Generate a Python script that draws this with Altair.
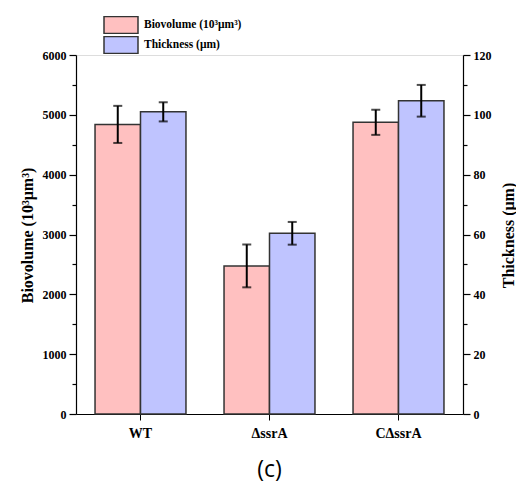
import altair as alt
import pandas as pd

strains = ["WT", "ΔssrA", "CΔssrA"]
biovolume = [4840, 2475, 4875]
biovolume_err = [310, 358, 210]
thickness = [101.0, 60.4, 104.7]
thickness_err = [3.2, 3.8, 5.3]
series = ["Biovolume (10³μm³)", "Thickness (μm)"]
colors = ["#FFC0C0", "#BFC4FF"]

bio_df = pd.DataFrame({
    "strain": strains,
    "series": series[0],
    "value": biovolume,
    "lo": [v - e for v, e in zip(biovolume, biovolume_err)],
    "hi": [v + e for v, e in zip(biovolume, biovolume_err)],
})
thk_df = pd.DataFrame({
    "strain": strains,
    "series": series[1],
    "value": thickness,
    "lo": [v - e for v, e in zip(thickness, thickness_err)],
    "hi": [v + e for v, e in zip(thickness, thickness_err)],
})

SERIF = "Liberation Serif"

x_enc = alt.X("strain:N", sort=strains, title=None,
              scale=alt.Scale(paddingInner=0.295, paddingOuter=0.1475),
              axis=alt.Axis(labelAngle=0, labelFont=SERIF, labelFontSize=14,
                            labelFontWeight="bold", labelColor="black",
                            domainColor="black", tickColor="black",
                            tickSize=6, labelPadding=6, domainWidth=1.2))
xo_enc = alt.XOffset("series:N", scale=alt.Scale(domain=series, paddingInner=0, paddingOuter=0))
color_enc = alt.Color("series:N", scale=alt.Scale(domain=series, range=colors),
                      legend=alt.Legend(title=None, orient="none", legendX=27, legendY=-39,
                                        symbolType="M-1,-1H3V1H-1Z", symbolSize=289,
                                        symbolStrokeColor="#333333", symbolStrokeWidth=1.5,
                                        symbolOpacity=1, clipHeight=18,
                                        labelFont=SERIF, labelFontSize=11.5, labelFontWeight="bold",
                                        labelColor="black", labelOffset=22, rowPadding=2))


def make_layer(df, domain, step_minor, step_major, title, orient, title_angle, title_x):
    ticks = [i * step_minor for i in range(int(domain / step_minor) + 1)]
    axis = alt.Axis(values=ticks, orient=orient, grid=False, format="d",
                    labelExpr=f"datum.value % {step_major} === 0 ? datum.label : ''",
                    tickSize={"condition": {"test": f"datum.value % {step_major} === 0", "value": 7}, "value": 4},
                    labelFont=SERIF, labelFontSize=12, labelFontWeight="bold", labelColor="black",
                    domainColor="black", tickColor="black", domainWidth=1.2, tickWidth=1.2,
                    labelPadding=3,
                    title=title, titleFont=SERIF, titleFontSize=16, titleFontWeight="bold",
                    titleColor="black", titleAngle=title_angle, titleX=title_x, titleY=180,
                    titleBaseline="middle", titleAlign="center")
    y_scale = alt.Scale(domain=[0, domain], nice=False)
    bars = alt.Chart(df).mark_bar(stroke="#333333", strokeWidth=1.5, opacity=1).encode(
        x=x_enc, xOffset=xo_enc,
        y=alt.Y("value:Q", scale=y_scale, axis=axis),
        color=color_enc,
    )
    rule = alt.Chart(df).mark_rule(color="black", strokeWidth=2).encode(
        x=x_enc, xOffset=xo_enc,
        y=alt.Y("lo:Q", scale=y_scale, axis=axis), y2="hi:Q",
    )
    cap_lo = alt.Chart(df).mark_tick(color="black", thickness=2, size=9).encode(
        x=x_enc, xOffset=xo_enc, y=alt.Y("lo:Q", scale=y_scale, axis=axis))
    cap_hi = alt.Chart(df).mark_tick(color="black", thickness=2, size=9).encode(
        x=x_enc, xOffset=xo_enc, y=alt.Y("hi:Q", scale=y_scale, axis=axis))
    return alt.layer(bars, rule, cap_lo, cap_hi)


left = make_layer(bio_df, 6000, 500, 1000, "Biovolume (10³μm³)", "left", 270, -49)
right = make_layer(thk_df, 120, 10, 20, "Thickness (μm)", "right", 270, 45)

chart = alt.layer(left, right).resolve_scale(y="independent").properties(
    width=387, height=359,
    autosize=alt.AutoSizeParams(type="none"),
    padding={"left": 76, "top": 55, "right": 53, "bottom": 70},
    title=alt.TitleParams("(c)", orient="bottom", font="Open Sans", fontSize=23,
                          fontWeight="normal", color="black", offset=19),
).configure_view(strokeWidth=0).configure(background="white")

chart.save("out.html", embed_options={"renderer": "svg", "actions": False})
